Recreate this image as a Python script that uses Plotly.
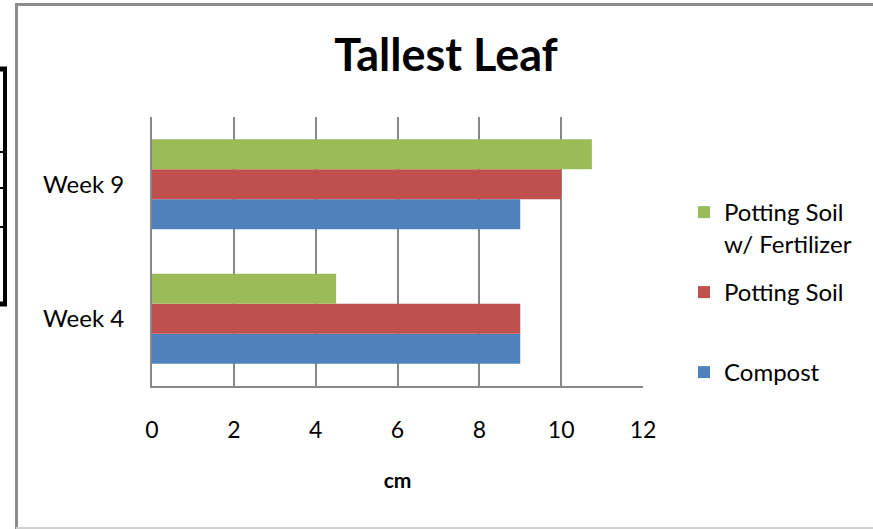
import plotly.graph_objects as go

categories = ["Week 4", "Week 9"]
compost = [9, 9]
potting_soil = [9, 10]
potting_fert = [4.5, 10.75]
series_names = ["Compost", "Potting Soil", "Potting Soil<br>w/ Fertilizer"]
colors = ["#4F81BD", "#C0504D", "#9BBB59"]
x_ticks = [0, 2, 4, 6, 8, 10, 12]

W, H = 873, 529
L, R, T, B = 152, 643, 117, 386
PW, PH = R - L, B - T


def px(x):
    return (x - L) / PW


def py(y):
    return (B - y) / PH


FONT = "Lato"

fig = go.Figure()
values = [compost, potting_soil, potting_fert]
legends = ["legend3", "legend2", "legend"]
for name, vals, col, lg in zip(series_names, values, colors, legends):
    fig.add_trace(go.Bar(
        y=categories, x=vals, name=name, orientation="h",
        marker=dict(color=col, line=dict(width=0)),
        legend=lg,
    ))

leg_common = dict(
    font=dict(family=FONT, size=24, color="#000000"),
    bgcolor="rgba(0,0,0,0)", borderwidth=0,
    xanchor="left", yanchor="top", valign="top",
)
fig.update_layout(
    width=W, height=H,
    margin=dict(l=L, r=W - R, t=T, b=H - B, autoexpand=False),
    paper_bgcolor="white", plot_bgcolor="white",
    barmode="group", bargap=0.33, bargroupgap=0,
    title=dict(text="<b>Tallest Leaf</b>", x=px(446), xref="paper", xanchor="center",
               y=1 - 55 / H, yanchor="middle",
               font=dict(family=FONT, size=45, color="#000000")),
    legend=dict(x=px(684), y=py(190), **leg_common),
    legend2=dict(x=px(684), y=py(270), **leg_common),
    legend3=dict(x=px(684), y=py(350), **leg_common),
    xaxis=dict(
        range=[0, 12], tickvals=x_ticks, ticktext=[str(v) for v in x_ticks],
        showgrid=True, gridcolor="#878787", gridwidth=2,
        showline=True, linecolor="#878787", linewidth=2,
        ticks="", ticklabelstandoff=22, zeroline=False,
        tickfont=dict(family=FONT, size=23, color="#000000"),
        title=dict(text="<b>cm</b>", standoff=32,
                   font=dict(family=FONT, size=21, color="#000000")),
        fixedrange=True,
    ),
    yaxis=dict(
        range=[-0.5, 1.5], showgrid=False,
        showline=True, linecolor="#878787", linewidth=2,
        ticks="", ticklabelstandoff=21,
        tickfont=dict(family=FONT, size=24, color="#000000"),
        fixedrange=True,
    ),
    showlegend=True,
)

shapes = []
# outer chart border (top, left gray; bottom light)
shapes.append(dict(type="line", xref="paper", yref="paper", x0=px(15), x1=px(873), y0=py(4.5), y1=py(4.5),
                   line=dict(color="#8C8C8C", width=3)))
shapes.append(dict(type="line", xref="paper", yref="paper", x0=px(16.5), x1=px(16.5), y0=py(3), y1=py(529),
                   line=dict(color="#8C8C8C", width=3)))
shapes.append(dict(type="line", xref="paper", yref="paper", x0=px(16), x1=px(873), y0=py(528), y1=py(528),
                   line=dict(color="#D0D0D0", width=2)))
# black box fragment at far left
shapes.append(dict(type="line", xref="paper", yref="paper", x0=px(0), x1=px(7), y0=py(69), y1=py(69),
                   line=dict(color="#000000", width=5)))
shapes.append(dict(type="line", xref="paper", yref="paper", x0=px(5), x1=px(5), y0=py(67), y1=py(306),
                   line=dict(color="#000000", width=4)))
shapes.append(dict(type="line", xref="paper", yref="paper", x0=px(0), x1=px(7), y0=py(304), y1=py(304),
                   line=dict(color="#000000", width=5)))
for yy in (152, 188, 227):
    shapes.append(dict(type="line", xref="paper", yref="paper", x0=px(0), x1=px(4), y0=py(yy), y1=py(yy),
                       line=dict(color="#000000", width=2)))
fig.update_layout(shapes=shapes)

fig.write_html("out.html", config={"displayModeBar": False},
               post_script="document.body.style.margin='0';document.body.style.overflow='hidden';")
